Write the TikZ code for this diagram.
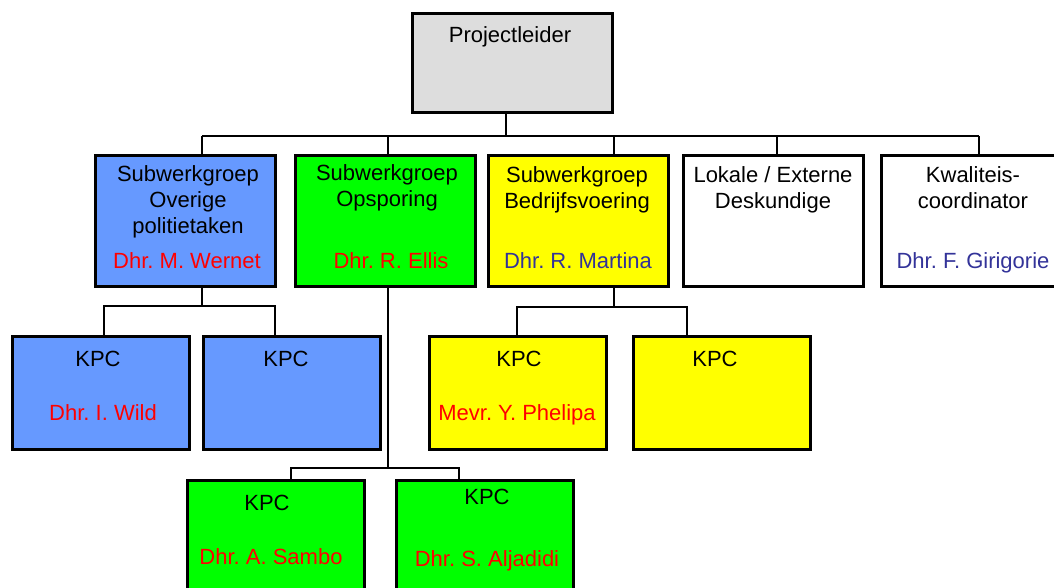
\documentclass[tikz,border=0pt]{standalone}
\usepackage{fontspec}
\setmainfont{Liberation Sans}
\usepackage{xcolor}
\frenchspacing
\definecolor{kpc-blue}{HTML}{6699FF}
\definecolor{kpc-green}{HTML}{00FF00}
\definecolor{kpc-yellow}{HTML}{FFFF00}
\definecolor{kpc-grey}{HTML}{DDDDDD}
\definecolor{name-red}{HTML}{FF0000}
\definecolor{name-blue}{HTML}{333399}
\tikzset{
    org-box/.style = {draw=black, line width=3pt, rectangle, inner sep=0pt, anchor=north west},
    sub-box/.style = {org-box, minimum width=180pt, minimum height=131pt},
    kpc-box/.style = {org-box, minimum width=177pt, minimum height=113pt},
    org-line/.style = {draw=black, line width=1.6pt},
    box-text/.style = {inner sep=0pt, align=center, anchor=north, font=\fontsize{22}{26}\selectfont},
    name-text/.style = {inner sep=0pt, anchor=base, font=\fontsize{22}{26}\selectfont},
}

\begin{document}
\begin{tikzpicture}[x=1pt, y=-1pt]
\path[use as bounding box, clip] (0,0) rectangle (1054,588);

\node [org-box, fill=kpc-grey, minimum width=200pt, minimum height=99pt] (leider) at (411,12) {};
\node [name-text] (leider-t) at (510,43) {Projectleider};

\node [sub-box, fill=kpc-blue] (overig) at (93.5,154) {};
\node [sub-box, fill=kpc-green] (opsporing) at (294,154) {};
\node [sub-box, fill=kpc-yellow] (bedrijf) at (487,154) {};
\node [sub-box, fill=white] (extern) at (682,154) {};
\node [sub-box, fill=white] (kwaliteit) at (880,154) {};

\node [box-text] (overig-t) at (188,165) {Subwerkgroep\\Overige\\politietaken};
\node [box-text] (opsporing-t) at (387,164) {Subwerkgroep\\Opsporing};
\node [box-text] (bedrijf-t) at (577,166) {Subwerkgroep\\Bedrijfsvoering};
\node [box-text] (extern-t) at (773,166) {Lokale / Externe\\Deskundige};
\node [box-text] (kwaliteit-t) at (973,166) {Kwaliteis-\\coordinator};

\node [name-text, text=name-red] (overig-n) at (187,268) {Dhr. M. Wernet};
\node [name-text, text=name-red] (opsporing-n) at (391,268) {Dhr. R. Ellis};
\node [name-text, text=name-blue] (bedrijf-n) at (578,268) {Dhr. R. Martina};
\node [name-text, text=name-blue] (kwaliteit-n) at (973,268) {Dhr. F. Girigorie};

\node [kpc-box, fill=kpc-blue] (overig-a) at (11,335) {};
\node [kpc-box, fill=kpc-blue] (overig-b) at (202,335) {};
\node [kpc-box, fill=kpc-yellow] (bedrijf-a) at (428,335) {};
\node [kpc-box, fill=kpc-yellow] (bedrijf-b) at (632,335) {};
\node [kpc-box, fill=kpc-green, minimum height=130pt] (opsporing-a) at (186,478.5) {};
\node [kpc-box, fill=kpc-green, minimum height=130pt] (opsporing-b) at (395,478.5) {};

\node [name-text] (overig-a-t) at (98,366.7) {KPC};
\node [name-text] (overig-b-t) at (286,366.7) {KPC};
\node [name-text] (bedrijf-a-t) at (519,366.7) {KPC};
\node [name-text] (bedrijf-b-t) at (715,366.7) {KPC};
\node [name-text] (opsporing-a-t) at (267,510) {KPC};
\node [name-text] (opsporing-b-t) at (487,504) {KPC};

\node [name-text, text=name-red] (overig-a-n) at (103,420.7) {Dhr. I. Wild};
\node [name-text, text=name-red] (bedrijf-a-n) at (517,420.7) {Mevr. Y. Phelipa};
\node [name-text, text=name-red] (opsporing-a-n) at (271,564) {Dhr. A. Sambo};
\node [name-text, text=name-red] (opsporing-b-n) at (487,566) {Dhr. S. Aljadidi};

\coordinate (bus) at (506,136);
\coordinate (bus-1) at (202,136);
\coordinate (bus-2) at (388,136);
\coordinate (bus-3) at (614,136);
\coordinate (bus-4) at (777,136);
\coordinate (bus-5) at (979,136);
\draw [org-line] (leider.south -| bus) -- (bus);
\draw [org-line] (bus-1) -- (bus-5);
\draw [org-line] (bus-1) -- (bus-1 |- overig.north);
\draw [org-line] (bus-2) -- (bus-2 |- opsporing.north);
\draw [org-line] (bus-3) -- (bus-3 |- bedrijf.north);
\draw [org-line] (bus-4) -- (bus-4 |- extern.north);
\draw [org-line] (bus-5) -- (bus-5 |- kwaliteit.north);

\coordinate (overig-l) at (104,306);
\coordinate (overig-r) at (275,306);
\draw [org-line] (overig.south -| bus-1) -- (bus-1 |- overig-l);
\draw [org-line] (overig-l |- overig-a.north) -- (overig-l) -- (overig-r) -- (overig-r |- overig-b.north);

\coordinate (bedrijf-l) at (517,307);
\coordinate (bedrijf-r) at (687,307);
\draw [org-line] (bedrijf.south -| bus-3) -- (bus-3 |- bedrijf-l);
\draw [org-line] (bedrijf-l |- bedrijf-a.north) -- (bedrijf-l) -- (bedrijf-r) -- (bedrijf-r |- bedrijf-b.north);

\coordinate (opsporing-l) at (291,468);
\coordinate (opsporing-r) at (459,468);
\draw [org-line] (opsporing.south -| bus-2) -- (bus-2 |- opsporing-l);
\draw [org-line] (opsporing-l |- opsporing-a.north) -- (opsporing-l) -- (opsporing-r) -- (opsporing-r |- opsporing-b.north);
\end{tikzpicture}
\end{document}
